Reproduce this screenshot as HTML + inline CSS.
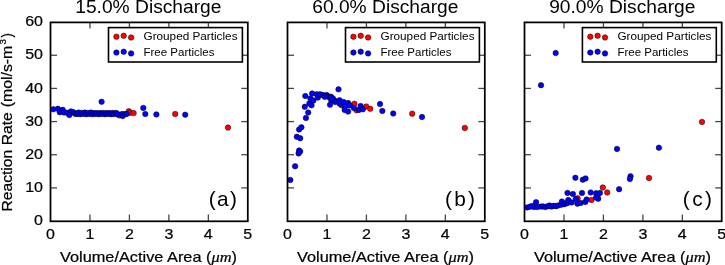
<!DOCTYPE html>
<html><head><meta charset="utf-8"><style>
html,body{margin:0;padding:0;background:#fff;}
svg{display:block;}
text{font-family:"Liberation Sans", sans-serif;fill:#000;stroke:#000;stroke-width:0.22px;}
.big{stroke:none;}
svg{will-change:transform;}
.ax{fill:none;stroke:#000;stroke-width:1.75;}
.tk{stroke:#000;stroke-width:1.3;stroke-opacity:0.72;}
.lg{fill:#fff;stroke:#000;stroke-width:1.6;}
.pts circle, circle{stroke:#000;stroke-width:0.5;}
</style></head><body>
<svg width="725" height="265" viewBox="0 0 725 265">
<g class="pts"><circle cx="119.4" cy="115.4" r="2.75" fill="#ff0000"/>
<circle cx="128.8" cy="111.2" r="2.75" fill="#ff0000"/>
<circle cx="130" cy="112.8" r="2.75" fill="#ff0000"/>
<circle cx="133.6" cy="113.1" r="2.75" fill="#ff0000"/>
<circle cx="175.2" cy="114" r="2.75" fill="#ff0000"/>
<circle cx="228" cy="127.6" r="2.75" fill="#ff0000"/>
<circle cx="53.3" cy="109.3" r="2.75" fill="#0000ff"/>
<circle cx="57.9" cy="108.8" r="2.75" fill="#0000ff"/>
<circle cx="62.7" cy="109.8" r="2.75" fill="#0000ff"/>
<circle cx="59.8" cy="112.2" r="2.75" fill="#0000ff"/>
<circle cx="64.0" cy="112.4" r="2.75" fill="#0000ff"/>
<circle cx="66.9" cy="112.7" r="2.75" fill="#0000ff"/>
<circle cx="70.9" cy="111.4" r="2.75" fill="#0000ff"/>
<circle cx="69.3" cy="115.1" r="2.75" fill="#0000ff"/>
<circle cx="73.5" cy="112.2" r="2.75" fill="#0000ff"/>
<circle cx="75.1" cy="113.8" r="2.75" fill="#0000ff"/>
<circle cx="77.0" cy="113.9" r="2.75" fill="#0000ff"/>
<circle cx="78.5" cy="112.6" r="2.75" fill="#0000ff"/>
<circle cx="80.1" cy="114.2" r="2.75" fill="#0000ff"/>
<circle cx="81.6" cy="112.9" r="2.75" fill="#0000ff"/>
<circle cx="83.2" cy="113.9" r="2.75" fill="#0000ff"/>
<circle cx="84.7" cy="112.6" r="2.75" fill="#0000ff"/>
<circle cx="86.3" cy="114.2" r="2.75" fill="#0000ff"/>
<circle cx="87.8" cy="112.9" r="2.75" fill="#0000ff"/>
<circle cx="89.4" cy="113.9" r="2.75" fill="#0000ff"/>
<circle cx="90.9" cy="112.6" r="2.75" fill="#0000ff"/>
<circle cx="92.5" cy="114.2" r="2.75" fill="#0000ff"/>
<circle cx="94.0" cy="113.1" r="2.75" fill="#0000ff"/>
<circle cx="95.6" cy="114.0" r="2.75" fill="#0000ff"/>
<circle cx="97.1" cy="113.0" r="2.75" fill="#0000ff"/>
<circle cx="98.7" cy="114.2" r="2.75" fill="#0000ff"/>
<circle cx="100.2" cy="113.1" r="2.75" fill="#0000ff"/>
<circle cx="101.8" cy="114.0" r="2.75" fill="#0000ff"/>
<circle cx="103.3" cy="113.0" r="2.75" fill="#0000ff"/>
<circle cx="104.9" cy="114.2" r="2.75" fill="#0000ff"/>
<circle cx="106.4" cy="113.1" r="2.75" fill="#0000ff"/>
<circle cx="108.0" cy="114.0" r="2.75" fill="#0000ff"/>
<circle cx="109.5" cy="113.0" r="2.75" fill="#0000ff"/>
<circle cx="111.1" cy="114.2" r="2.75" fill="#0000ff"/>
<circle cx="112.6" cy="113.1" r="2.75" fill="#0000ff"/>
<circle cx="114.2" cy="114.0" r="2.75" fill="#0000ff"/>
<circle cx="115.7" cy="113.0" r="2.75" fill="#0000ff"/>
<circle cx="117.3" cy="114.2" r="2.75" fill="#0000ff"/>
<circle cx="117" cy="113.4" r="2.75" fill="#0000ff"/>
<circle cx="122.1" cy="114" r="2.75" fill="#0000ff"/>
<circle cx="122.7" cy="116.1" r="2.75" fill="#0000ff"/>
<circle cx="125.1" cy="114" r="2.75" fill="#0000ff"/>
<circle cx="126.6" cy="114" r="2.75" fill="#0000ff"/>
<circle cx="101.6" cy="101.8" r="2.75" fill="#0000ff"/>
<circle cx="143.3" cy="107.9" r="2.75" fill="#0000ff"/>
<circle cx="145.3" cy="114" r="2.75" fill="#0000ff"/>
<circle cx="156.4" cy="114.4" r="2.75" fill="#0000ff"/>
<circle cx="185.2" cy="114.7" r="2.75" fill="#0000ff"/><circle cx="341.6" cy="105.3" r="2.75" fill="#ff0000"/>
<circle cx="354.4" cy="103.8" r="2.75" fill="#ff0000"/>
<circle cx="356.5" cy="110.3" r="2.75" fill="#ff0000"/>
<circle cx="366.2" cy="106.5" r="2.75" fill="#ff0000"/>
<circle cx="370.2" cy="108.8" r="2.75" fill="#ff0000"/>
<circle cx="412.2" cy="113.7" r="2.75" fill="#ff0000"/>
<circle cx="464.8" cy="127.9" r="2.75" fill="#ff0000"/>
<circle cx="290.3" cy="179.9" r="2.75" fill="#0000ff"/>
<circle cx="295.1" cy="166.3" r="2.75" fill="#0000ff"/>
<circle cx="298.6" cy="153.4" r="2.75" fill="#0000ff"/>
<circle cx="299.1" cy="150.5" r="2.75" fill="#0000ff"/>
<circle cx="300.1" cy="151.5" r="2.75" fill="#0000ff"/>
<circle cx="296.8" cy="136.8" r="2.75" fill="#0000ff"/>
<circle cx="300.2" cy="138.2" r="2.75" fill="#0000ff"/>
<circle cx="299.1" cy="129.5" r="2.75" fill="#0000ff"/>
<circle cx="301.4" cy="127.3" r="2.75" fill="#0000ff"/>
<circle cx="305.9" cy="118" r="2.75" fill="#0000ff"/>
<circle cx="308.2" cy="112.5" r="2.75" fill="#0000ff"/>
<circle cx="304.8" cy="106.8" r="2.75" fill="#0000ff"/>
<circle cx="311.5" cy="105.3" r="2.75" fill="#0000ff"/>
<circle cx="309.3" cy="103.4" r="2.75" fill="#0000ff"/>
<circle cx="311.6" cy="101.1" r="2.75" fill="#0000ff"/>
<circle cx="305.3" cy="96" r="2.75" fill="#0000ff"/>
<circle cx="310.4" cy="98.4" r="2.75" fill="#0000ff"/>
<circle cx="312.1" cy="93.5" r="2.75" fill="#0000ff"/>
<circle cx="313.4" cy="100.5" r="2.75" fill="#0000ff"/>
<circle cx="316.7" cy="94.3" r="2.75" fill="#0000ff"/>
<circle cx="317.9" cy="97.6" r="2.75" fill="#0000ff"/>
<circle cx="320" cy="94.3" r="2.75" fill="#0000ff"/>
<circle cx="322.9" cy="95.1" r="2.75" fill="#0000ff"/>
<circle cx="324.6" cy="96.8" r="2.75" fill="#0000ff"/>
<circle cx="326.6" cy="95.1" r="2.75" fill="#0000ff"/>
<circle cx="327.9" cy="96.8" r="2.75" fill="#0000ff"/>
<circle cx="330.4" cy="96.8" r="2.75" fill="#0000ff"/>
<circle cx="331.2" cy="100.1" r="2.75" fill="#0000ff"/>
<circle cx="332.9" cy="98.4" r="2.75" fill="#0000ff"/>
<circle cx="334.5" cy="100.5" r="2.75" fill="#0000ff"/>
<circle cx="330" cy="104.7" r="2.75" fill="#0000ff"/>
<circle cx="338.5" cy="89.3" r="2.75" fill="#0000ff"/>
<circle cx="331.1" cy="96.9" r="2.75" fill="#0000ff"/>
<circle cx="332.3" cy="99.7" r="2.75" fill="#0000ff"/>
<circle cx="335.1" cy="102" r="2.75" fill="#0000ff"/>
<circle cx="339.6" cy="100.3" r="2.75" fill="#0000ff"/>
<circle cx="339.8" cy="103.8" r="2.75" fill="#0000ff"/>
<circle cx="344.6" cy="105.5" r="2.75" fill="#0000ff"/>
<circle cx="343.6" cy="102" r="2.75" fill="#0000ff"/>
<circle cx="345.3" cy="106" r="2.75" fill="#0000ff"/>
<circle cx="344.7" cy="109.9" r="2.75" fill="#0000ff"/>
<circle cx="348.1" cy="111.6" r="2.75" fill="#0000ff"/>
<circle cx="348.1" cy="103.1" r="2.75" fill="#0000ff"/>
<circle cx="349.8" cy="105.4" r="2.75" fill="#0000ff"/>
<circle cx="353.8" cy="108.0" r="2.75" fill="#0000ff"/>
<circle cx="358.9" cy="109.9" r="2.75" fill="#0000ff"/>
<circle cx="360.6" cy="106" r="2.75" fill="#0000ff"/>
<circle cx="362.8" cy="109.3" r="2.75" fill="#0000ff"/>
<circle cx="380" cy="104.1" r="2.75" fill="#0000ff"/>
<circle cx="382.3" cy="110.9" r="2.75" fill="#0000ff"/>
<circle cx="393.2" cy="113.5" r="2.75" fill="#0000ff"/>
<circle cx="422" cy="117" r="2.75" fill="#0000ff"/><circle cx="577.6" cy="198.3" r="2.75" fill="#ff0000"/>
<circle cx="591.5" cy="200" r="2.75" fill="#ff0000"/>
<circle cx="602.8" cy="187.5" r="2.75" fill="#ff0000"/>
<circle cx="607.2" cy="192.5" r="2.75" fill="#ff0000"/>
<circle cx="649" cy="178" r="2.75" fill="#ff0000"/>
<circle cx="702" cy="121.9" r="2.75" fill="#ff0000"/>
<circle cx="527.1" cy="207.4" r="2.75" fill="#0000ff"/>
<circle cx="530" cy="206.8" r="2.75" fill="#0000ff"/>
<circle cx="532" cy="205.9" r="2.75" fill="#0000ff"/>
<circle cx="534" cy="207.0" r="2.75" fill="#0000ff"/>
<circle cx="536.1" cy="202.2" r="2.75" fill="#0000ff"/>
<circle cx="537.5" cy="207.0" r="2.75" fill="#0000ff"/>
<circle cx="541.1" cy="206.6" r="2.75" fill="#0000ff"/>
<circle cx="543" cy="206.4" r="2.75" fill="#0000ff"/>
<circle cx="545.5" cy="207.0" r="2.75" fill="#0000ff"/>
<circle cx="548" cy="206.2" r="2.75" fill="#0000ff"/>
<circle cx="549.4" cy="205.5" r="2.75" fill="#0000ff"/>
<circle cx="551.5" cy="206.6" r="2.75" fill="#0000ff"/>
<circle cx="553.6" cy="205.8" r="2.75" fill="#0000ff"/>
<circle cx="556" cy="206.2" r="2.75" fill="#0000ff"/>
<circle cx="558" cy="205.5" r="2.75" fill="#0000ff"/>
<circle cx="561" cy="204.8" r="2.75" fill="#0000ff"/>
<circle cx="561.9" cy="201.6" r="2.75" fill="#0000ff"/>
<circle cx="564" cy="204.2" r="2.75" fill="#0000ff"/>
<circle cx="566" cy="203.5" r="2.75" fill="#0000ff"/>
<circle cx="567.5" cy="202.9" r="2.75" fill="#0000ff"/>
<circle cx="568.3" cy="200" r="2.75" fill="#0000ff"/>
<circle cx="571.6" cy="202.4" r="2.75" fill="#0000ff"/>
<circle cx="577.4" cy="203.7" r="2.75" fill="#0000ff"/>
<circle cx="580.7" cy="202.9" r="2.75" fill="#0000ff"/>
<circle cx="585.3" cy="202" r="2.75" fill="#0000ff"/>
<circle cx="567.5" cy="192.9" r="2.75" fill="#0000ff"/>
<circle cx="572.9" cy="194.1" r="2.75" fill="#0000ff"/>
<circle cx="582" cy="192.9" r="2.75" fill="#0000ff"/>
<circle cx="590.7" cy="192.5" r="2.75" fill="#0000ff"/>
<circle cx="596.1" cy="193.3" r="2.75" fill="#0000ff"/>
<circle cx="599.9" cy="192.9" r="2.75" fill="#0000ff"/>
<circle cx="597.4" cy="195.8" r="2.75" fill="#0000ff"/>
<circle cx="598.2" cy="198.7" r="2.75" fill="#0000ff"/>
<circle cx="596.1" cy="197.5" r="2.75" fill="#0000ff"/>
<circle cx="575.8" cy="199.1" r="2.75" fill="#0000ff"/>
<circle cx="586.6" cy="199.5" r="2.75" fill="#0000ff"/>
<circle cx="575.4" cy="177.8" r="2.75" fill="#0000ff"/>
<circle cx="582.8" cy="179.7" r="2.75" fill="#0000ff"/>
<circle cx="585.6" cy="178.4" r="2.75" fill="#0000ff"/>
<circle cx="619.1" cy="189.2" r="2.75" fill="#0000ff"/>
<circle cx="617" cy="148.9" r="2.75" fill="#0000ff"/>
<circle cx="658.9" cy="147.7" r="2.75" fill="#0000ff"/>
<circle cx="630.5" cy="176.3" r="2.75" fill="#0000ff"/>
<circle cx="629.9" cy="179" r="2.75" fill="#0000ff"/>
<circle cx="555.7" cy="53.1" r="2.75" fill="#0000ff"/>
<circle cx="541" cy="85.2" r="2.75" fill="#0000ff"/></g>
<line x1="89.96" y1="221.05" x2="89.96" y2="214.55" class="tk"/>
<line x1="89.96" y1="22.1" x2="89.96" y2="28.6" class="tk"/>
<line x1="129.42" y1="221.05" x2="129.42" y2="214.55" class="tk"/>
<line x1="129.42" y1="22.1" x2="129.42" y2="28.6" class="tk"/>
<line x1="168.88" y1="221.05" x2="168.88" y2="214.55" class="tk"/>
<line x1="168.88" y1="22.1" x2="168.88" y2="28.6" class="tk"/>
<line x1="208.34" y1="221.05" x2="208.34" y2="214.55" class="tk"/>
<line x1="208.34" y1="22.1" x2="208.34" y2="28.6" class="tk"/>
<line x1="50.5" y1="187.89" x2="57.0" y2="187.89" class="tk"/>
<line x1="247.8" y1="187.89" x2="241.3" y2="187.89" class="tk"/>
<line x1="50.5" y1="154.73" x2="57.0" y2="154.73" class="tk"/>
<line x1="247.8" y1="154.73" x2="241.3" y2="154.73" class="tk"/>
<line x1="50.5" y1="121.58" x2="57.0" y2="121.58" class="tk"/>
<line x1="247.8" y1="121.58" x2="241.3" y2="121.58" class="tk"/>
<line x1="50.5" y1="88.42" x2="57.0" y2="88.42" class="tk"/>
<line x1="247.8" y1="88.42" x2="241.3" y2="88.42" class="tk"/>
<line x1="50.5" y1="55.26" x2="57.0" y2="55.26" class="tk"/>
<line x1="247.8" y1="55.26" x2="241.3" y2="55.26" class="tk"/>
<rect x="50.5" y="22.4" width="197.30" height="198.90" class="ax"/>
<text class="big" x="148.35" y="13.4" font-size="18.0" text-anchor="middle" textLength="146.2" lengthAdjust="spacingAndGlyphs">15.0% Discharge</text>
<text x="50.50" y="239.4" font-size="15.1" text-anchor="middle" textLength="8.9" lengthAdjust="spacingAndGlyphs">0</text>
<text x="89.96" y="239.4" font-size="15.1" text-anchor="middle" textLength="8.9" lengthAdjust="spacingAndGlyphs">1</text>
<text x="129.42" y="239.4" font-size="15.1" text-anchor="middle" textLength="8.9" lengthAdjust="spacingAndGlyphs">2</text>
<text x="168.88" y="239.4" font-size="15.1" text-anchor="middle" textLength="8.9" lengthAdjust="spacingAndGlyphs">3</text>
<text x="208.34" y="239.4" font-size="15.1" text-anchor="middle" textLength="8.9" lengthAdjust="spacingAndGlyphs">4</text>
<text x="247.80" y="239.4" font-size="15.1" text-anchor="middle" textLength="8.9" lengthAdjust="spacingAndGlyphs">5</text>
<text x="148.45" y="261.9" font-size="14.6" text-anchor="middle" textLength="177.0" lengthAdjust="spacingAndGlyphs">Volume/Active Area (<tspan font-family='"Liberation Serif", serif' font-style="italic">μm</tspan>)</text>
<text class="big" x="208.84" y="206.0" font-size="20.8" textLength="28.0" lengthAdjust="spacing">(a)</text>
<rect x="108.50" y="27.6" width="133.90" height="34.40" class="lg"/>
<circle cx="116.40" cy="36.70" r="2.75" fill="#ff0000"/>
<circle cx="123.70" cy="35.80" r="2.75" fill="#ff0000"/>
<circle cx="131.10" cy="37.50" r="2.75" fill="#ff0000"/>
<text class="big" x="143.50" y="39.90" font-size="11.3" textLength="94.0" lengthAdjust="spacingAndGlyphs">Grouped Particles</text>
<circle cx="116.40" cy="52.60" r="2.75" fill="#0000ff"/>
<circle cx="123.70" cy="51.70" r="2.75" fill="#0000ff"/>
<circle cx="131.10" cy="53.40" r="2.75" fill="#0000ff"/>
<text class="big" x="143.50" y="55.80" font-size="11.3" textLength="71.0" lengthAdjust="spacingAndGlyphs">Free Particles</text>
<line x1="326.96" y1="221.05" x2="326.96" y2="214.55" class="tk"/>
<line x1="326.96" y1="22.1" x2="326.96" y2="28.6" class="tk"/>
<line x1="366.42" y1="221.05" x2="366.42" y2="214.55" class="tk"/>
<line x1="366.42" y1="22.1" x2="366.42" y2="28.6" class="tk"/>
<line x1="405.88" y1="221.05" x2="405.88" y2="214.55" class="tk"/>
<line x1="405.88" y1="22.1" x2="405.88" y2="28.6" class="tk"/>
<line x1="445.34" y1="221.05" x2="445.34" y2="214.55" class="tk"/>
<line x1="445.34" y1="22.1" x2="445.34" y2="28.6" class="tk"/>
<line x1="287.5" y1="187.89" x2="294.0" y2="187.89" class="tk"/>
<line x1="484.8" y1="187.89" x2="478.3" y2="187.89" class="tk"/>
<line x1="287.5" y1="154.73" x2="294.0" y2="154.73" class="tk"/>
<line x1="484.8" y1="154.73" x2="478.3" y2="154.73" class="tk"/>
<line x1="287.5" y1="121.58" x2="294.0" y2="121.58" class="tk"/>
<line x1="484.8" y1="121.58" x2="478.3" y2="121.58" class="tk"/>
<line x1="287.5" y1="88.42" x2="294.0" y2="88.42" class="tk"/>
<line x1="484.8" y1="88.42" x2="478.3" y2="88.42" class="tk"/>
<line x1="287.5" y1="55.26" x2="294.0" y2="55.26" class="tk"/>
<line x1="484.8" y1="55.26" x2="478.3" y2="55.26" class="tk"/>
<rect x="287.5" y="22.4" width="197.30" height="198.90" class="ax"/>
<text class="big" x="385.35" y="13.4" font-size="18.0" text-anchor="middle" textLength="146.2" lengthAdjust="spacingAndGlyphs">60.0% Discharge</text>
<text x="287.50" y="239.4" font-size="15.1" text-anchor="middle" textLength="8.9" lengthAdjust="spacingAndGlyphs">0</text>
<text x="326.96" y="239.4" font-size="15.1" text-anchor="middle" textLength="8.9" lengthAdjust="spacingAndGlyphs">1</text>
<text x="366.42" y="239.4" font-size="15.1" text-anchor="middle" textLength="8.9" lengthAdjust="spacingAndGlyphs">2</text>
<text x="405.88" y="239.4" font-size="15.1" text-anchor="middle" textLength="8.9" lengthAdjust="spacingAndGlyphs">3</text>
<text x="445.34" y="239.4" font-size="15.1" text-anchor="middle" textLength="8.9" lengthAdjust="spacingAndGlyphs">4</text>
<text x="484.80" y="239.4" font-size="15.1" text-anchor="middle" textLength="8.9" lengthAdjust="spacingAndGlyphs">5</text>
<text x="385.45" y="261.9" font-size="14.6" text-anchor="middle" textLength="177.0" lengthAdjust="spacingAndGlyphs">Volume/Active Area (<tspan font-family='"Liberation Serif", serif' font-style="italic">μm</tspan>)</text>
<text class="big" x="445.04" y="206.0" font-size="20.8" textLength="29.8" lengthAdjust="spacing">(b)</text>
<rect x="345.50" y="27.6" width="133.90" height="34.40" class="lg"/>
<circle cx="353.40" cy="36.70" r="2.75" fill="#ff0000"/>
<circle cx="360.70" cy="35.80" r="2.75" fill="#ff0000"/>
<circle cx="368.10" cy="37.50" r="2.75" fill="#ff0000"/>
<text class="big" x="380.50" y="39.90" font-size="11.3" textLength="94.0" lengthAdjust="spacingAndGlyphs">Grouped Particles</text>
<circle cx="353.40" cy="52.60" r="2.75" fill="#0000ff"/>
<circle cx="360.70" cy="51.70" r="2.75" fill="#0000ff"/>
<circle cx="368.10" cy="53.40" r="2.75" fill="#0000ff"/>
<text class="big" x="380.50" y="55.80" font-size="11.3" textLength="71.0" lengthAdjust="spacingAndGlyphs">Free Particles</text>
<line x1="563.96" y1="221.05" x2="563.96" y2="214.55" class="tk"/>
<line x1="563.96" y1="22.1" x2="563.96" y2="28.6" class="tk"/>
<line x1="603.42" y1="221.05" x2="603.42" y2="214.55" class="tk"/>
<line x1="603.42" y1="22.1" x2="603.42" y2="28.6" class="tk"/>
<line x1="642.88" y1="221.05" x2="642.88" y2="214.55" class="tk"/>
<line x1="642.88" y1="22.1" x2="642.88" y2="28.6" class="tk"/>
<line x1="682.34" y1="221.05" x2="682.34" y2="214.55" class="tk"/>
<line x1="682.34" y1="22.1" x2="682.34" y2="28.6" class="tk"/>
<line x1="524.5" y1="187.89" x2="531.0" y2="187.89" class="tk"/>
<line x1="721.7" y1="187.89" x2="715.2" y2="187.89" class="tk"/>
<line x1="524.5" y1="154.73" x2="531.0" y2="154.73" class="tk"/>
<line x1="721.7" y1="154.73" x2="715.2" y2="154.73" class="tk"/>
<line x1="524.5" y1="121.58" x2="531.0" y2="121.58" class="tk"/>
<line x1="721.7" y1="121.58" x2="715.2" y2="121.58" class="tk"/>
<line x1="524.5" y1="88.42" x2="531.0" y2="88.42" class="tk"/>
<line x1="721.7" y1="88.42" x2="715.2" y2="88.42" class="tk"/>
<line x1="524.5" y1="55.26" x2="531.0" y2="55.26" class="tk"/>
<line x1="721.7" y1="55.26" x2="715.2" y2="55.26" class="tk"/>
<rect x="524.5" y="22.4" width="197.20" height="198.90" class="ax"/>
<text class="big" x="622.30" y="13.4" font-size="18.0" text-anchor="middle" textLength="146.2" lengthAdjust="spacingAndGlyphs">90.0% Discharge</text>
<text x="524.50" y="239.4" font-size="15.1" text-anchor="middle" textLength="8.9" lengthAdjust="spacingAndGlyphs">0</text>
<text x="563.96" y="239.4" font-size="15.1" text-anchor="middle" textLength="8.9" lengthAdjust="spacingAndGlyphs">1</text>
<text x="603.42" y="239.4" font-size="15.1" text-anchor="middle" textLength="8.9" lengthAdjust="spacingAndGlyphs">2</text>
<text x="642.88" y="239.4" font-size="15.1" text-anchor="middle" textLength="8.9" lengthAdjust="spacingAndGlyphs">3</text>
<text x="682.34" y="239.4" font-size="15.1" text-anchor="middle" textLength="8.9" lengthAdjust="spacingAndGlyphs">4</text>
<text x="721.80" y="239.4" font-size="15.1" text-anchor="middle" textLength="8.9" lengthAdjust="spacingAndGlyphs">5</text>
<text x="622.40" y="261.9" font-size="14.6" text-anchor="middle" textLength="177.0" lengthAdjust="spacingAndGlyphs">Volume/Active Area (<tspan font-family='"Liberation Serif", serif' font-style="italic">μm</tspan>)</text>
<text class="big" x="682.84" y="206.0" font-size="20.8" textLength="29.2" lengthAdjust="spacing">(c)</text>
<rect x="582.40" y="27.6" width="133.90" height="34.40" class="lg"/>
<circle cx="590.30" cy="36.70" r="2.75" fill="#ff0000"/>
<circle cx="597.60" cy="35.80" r="2.75" fill="#ff0000"/>
<circle cx="605.00" cy="37.50" r="2.75" fill="#ff0000"/>
<text class="big" x="617.40" y="39.90" font-size="11.3" textLength="94.0" lengthAdjust="spacingAndGlyphs">Grouped Particles</text>
<circle cx="590.30" cy="52.60" r="2.75" fill="#0000ff"/>
<circle cx="597.60" cy="51.70" r="2.75" fill="#0000ff"/>
<circle cx="605.00" cy="53.40" r="2.75" fill="#0000ff"/>
<text class="big" x="617.40" y="55.80" font-size="11.3" textLength="71.0" lengthAdjust="spacingAndGlyphs">Free Particles</text>
<text x="43.0" y="225.15" font-size="15.1" text-anchor="end" textLength="8.9" lengthAdjust="spacingAndGlyphs">0</text>
<text x="43.0" y="191.99" font-size="15.1" text-anchor="end" textLength="17.8" lengthAdjust="spacingAndGlyphs">10</text>
<text x="43.0" y="158.83" font-size="15.1" text-anchor="end" textLength="17.8" lengthAdjust="spacingAndGlyphs">20</text>
<text x="43.0" y="125.67" font-size="15.1" text-anchor="end" textLength="17.8" lengthAdjust="spacingAndGlyphs">30</text>
<text x="43.0" y="92.52" font-size="15.1" text-anchor="end" textLength="17.8" lengthAdjust="spacingAndGlyphs">40</text>
<text x="43.0" y="59.36" font-size="15.1" text-anchor="end" textLength="17.8" lengthAdjust="spacingAndGlyphs">50</text>
<text x="43.0" y="26.20" font-size="15.1" text-anchor="end" textLength="17.8" lengthAdjust="spacingAndGlyphs">60</text>
<text transform="translate(12.1,211.6) rotate(-90)" font-size="14.6" textLength="99.4" lengthAdjust="spacingAndGlyphs">Reaction Rate</text>
<text transform="translate(12.1,107.3) rotate(-90)" font-size="14.6" textLength="61.6" lengthAdjust="spacingAndGlyphs">(mol/s-m</text>
<text transform="translate(6.2,44.4) rotate(-90)" font-size="8.2" textLength="5.4" lengthAdjust="spacingAndGlyphs">3</text>
<text transform="translate(12.1,37.5) rotate(-90)" font-size="14.6" textLength="4.4" lengthAdjust="spacingAndGlyphs">)</text>
</svg>
</body></html>
